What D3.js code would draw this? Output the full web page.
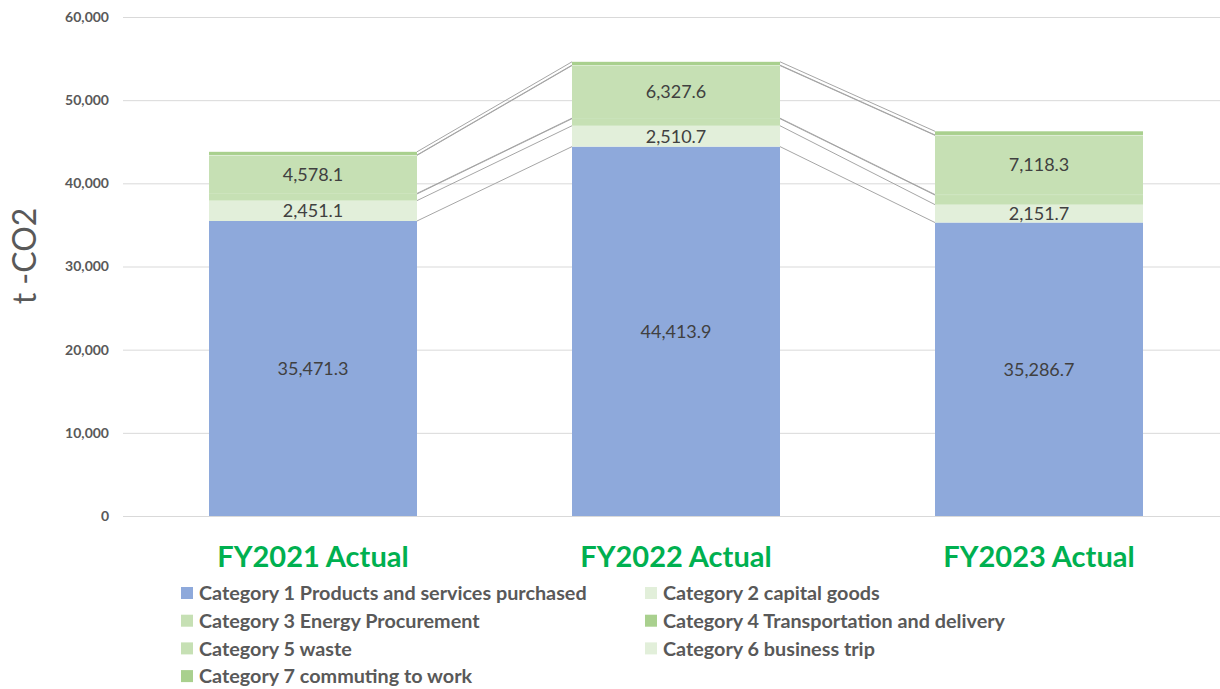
<!DOCTYPE html>
<html>
<head>
<meta charset="utf-8">
<script src="https://cdn.jsdelivr.net/npm/d3@7"></script>
<style>
  body { margin: 0; background: #fff; }
  svg { font-family: Lato, "Open Sans", sans-serif; }
</style>
</head>
<body>
<svg id="chart"></svg>
<script>
// data
let years = ["FY2021 Actual", "FY2022 Actual", "FY2023 Actual"];
let seriesNames = [
    "Category 1 Products and services purchased",
    "Category 2 capital goods",
    "Category 3 Energy Procurement",
    "Category 4 Transportation and delivery",
    "Category 5 waste",
    "Category 6 business trip",
    "Category 7 commuting to work"
];
let cat1 = [35471.3, 44413.9, 35286.7];
let cat2 = [2451.1, 2510.7, 2151.7];
let cat3 = [800, 850, 1150];
let cat4 = [60, 60, 60];
let cat5 = [4578.1, 6327.6, 7118.3];
let cat6 = [50, 50, 50];
let cat7 = [380, 400, 440];
let showLabel = [true, true, false, false, true, false, false];
let yTicks = [0, 10000, 20000, 30000, 40000, 50000, 60000];

let colors = ["#8EA9DB", "#E2EFDA", "#C6E0B4", "#A9D08E", "#C6E0B4", "#E2EFDA", "#A9D08E"];

let allSeries = [cat1, cat2, cat3, cat4, cat5, cat6, cat7];
let rows = years.map((y, i) => {
    let r = { year: y };
    seriesNames.forEach((n, k) => r[n] = allSeries[k][i]);
    return r;
});

let svg = d3.select('#chart').attr('width', 1220).attr('height', 689);

let scX = d3.scaleBand()
    .domain(years)
    .range([131.5, 1220.5])
    .paddingInner(0.427)
    .paddingOuter(0.2135);
let scY = d3.scaleLinear()
    .domain([0, 60000])
    .range([516, 17]);

// gridlines and y axis labels
let yAxis = d3.axisLeft(scY)
    .tickValues(yTicks)
    .tickSize(-(1220 - 131))
    .tickPadding(22)
    .tickFormat(d3.format(","));
let ga = svg.append('g').attr('transform', 'translate(131,0)').call(yAxis);
ga.select('.domain').remove();
ga.selectAll('.tick line').attr('stroke', '#d9d9d9').attr('stroke-width', 1)
    .attr('x1', -8);
ga.selectAll('.tick text')
    .attr('fill', '#595959')
    .style('font-size', '14px')
    .style('font-weight', 'bold')
    .style('font-family', 'Lato, sans-serif');

svg.append('text')
    .attr('transform', 'translate(36,256) rotate(-90)')
    .attr('text-anchor', 'middle')
    .attr('fill', '#595959')
    .style('font-size', '32px')
    .text('t -CO2');

let stacked = d3.stack().keys(seriesNames)(rows);

// series lines between bars
stacked.forEach(s => {
    for (let i = 0; i < years.length - 1; i++) {
        svg.append('line')
            .attr('x1', scX(years[i]) + scX.bandwidth())
            .attr('y1', scY(s[i][1]))
            .attr('x2', scX(years[i + 1]))
            .attr('y2', scY(s[i + 1][1]))
            .attr('stroke', '#a6a6a6')
            .attr('stroke-width', 1);
    }
});

// bars
svg.selectAll('g.series')
    .data(stacked).enter().append('g')
    .attr('class', 'series')
    .attr('fill', (d, k) => colors[k])
    .selectAll('rect')
    .data(d => d).enter().append('rect')
    .attr('x', d => scX(d.data.year))
    .attr('width', scX.bandwidth())
    .attr('y', d => scY(d[1]))
    .attr('height', d => scY(d[0]) - scY(d[1]));

// data labels
stacked.forEach((s, k) => {
    if (!showLabel[k]) return;
    svg.selectAll(null)
        .data(s).enter().append('text')
        .attr('x', d => scX(d.data.year) + scX.bandwidth() / 2)
        .attr('y', d => (scY(d[0]) + scY(d[1])) / 2)
        .attr('dy', '0.36em')
        .attr('text-anchor', 'middle')
        .attr('fill', '#404040')
        .style('font-size', '18px')
        .text(d => d3.format(",.1f")(d[1] - d[0]));
});

// category labels
svg.selectAll('text.cat')
    .data(years).enter().append('text')
    .attr('class', 'cat')
    .attr('x', d => scX(d) + scX.bandwidth() / 2)
    .attr('y', 567)
    .attr('text-anchor', 'middle')
    .attr('fill', '#00B050')
    .style('font-size', '29px')
    .style('font-weight', 'bold')
    .text(d => d);

// legend
let lg = svg.append('g');
let items = lg.selectAll('g')
    .data(seriesNames).enter().append('g')
    .attr('transform', (d, i) => `translate(${i % 2 === 0 ? 181 : 645},${593 + Math.floor(i / 2) * 27.7})`);
items.append('rect')
    .attr('x', 0).attr('y', -6).attr('width', 12).attr('height', 12)
    .attr('fill', (d, i) => colors[i]);
items.append('text')
    .attr('x', 18).attr('dy', '0.36em')
    .attr('fill', '#595959')
    .style('font-size', '19.8px')
    .style('font-weight', 'bold')
    .text(d => d);
</script>
</body>
</html>
